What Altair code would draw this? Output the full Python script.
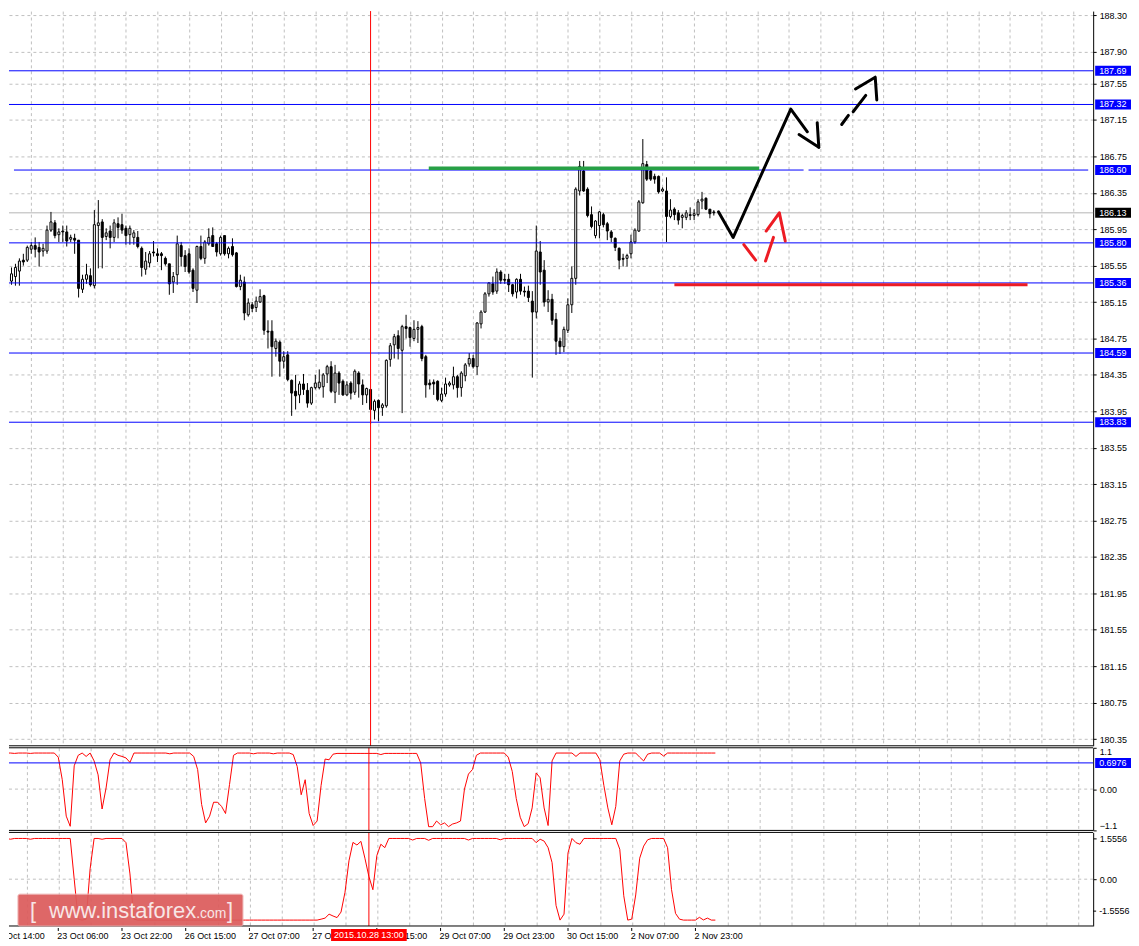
import altair as alt
import pandas as pd

# ---------------- data ----------------
opens = [
    185.31, 185.38, 185.43, 185.49, 185.61, 185.61, 185.73, 185.77, 185.75, 185.71,
    185.71, 185.94, 186.02, 185.89, 185.93, 185.92, 185.84, 185.85, 185.83, 185.29,
    185.40, 185.44, 185.33, 185.99, 186.03, 185.87, 185.93, 185.86, 186.01, 186.00,
    185.96, 185.89, 185.86, 185.86, 185.74, 185.51, 185.58, 185.70, 185.68, 185.68,
    185.63, 185.57, 185.37, 185.45, 185.77, 185.66, 185.68, 185.50, 185.28, 185.76,
    185.63, 185.79, 185.88, 185.79, 185.68, 185.88, 185.68, 185.76, 185.69, 185.32,
    185.37, 185.01, 185.12, 185.09, 185.15, 185.22, 184.83, 184.83, 184.64, 184.71,
    184.50, 184.57, 184.29, 184.17, 184.13, 184.25, 184.18, 184.04, 184.21, 184.21,
    184.22, 184.36, 184.44, 184.16, 184.37, 184.28, 184.13, 184.26, 184.16, 184.37,
    184.24, 184.13, 184.19, 183.96, 184.07, 183.99, 184.01, 184.52, 184.68, 184.78,
    184.62, 184.88, 184.87, 184.75, 184.85, 184.88, 184.55, 184.26, 184.27, 184.28,
    184.07, 184.14, 184.24, 184.24, 184.33, 184.21, 184.34, 184.47, 184.53, 184.44,
    184.91, 185.04, 185.24, 185.35, 185.27, 185.48, 185.40, 185.40, 185.34, 185.26,
    185.40, 185.27, 185.27, 185.16, 185.04, 185.70, 185.50, 185.15, 185.18, 184.96,
    184.72, 184.66, 184.84, 185.12, 185.41, 186.37, 186.59, 186.39, 186.11, 185.88,
    185.99, 186.11, 186.01, 185.92, 185.85, 185.74, 185.63, 185.63, 185.68, 185.81,
    185.93, 186.24, 186.66, 186.59, 186.53, 186.53, 186.37, 186.37, 186.09, 186.17,
    186.13, 186.08, 186.08, 186.11, 186.10, 186.11, 186.26, 186.29, 186.17, 186.14,
]
highs = [
    185.44, 185.53, 185.57, 185.63, 185.68, 185.77, 185.81, 185.86, 185.81, 185.79,
    185.99, 186.14, 186.05, 185.96, 185.99, 185.99, 185.89, 185.90, 185.83, 185.45,
    185.57, 185.52, 186.16, 186.27, 186.06, 185.96, 185.99, 186.06, 186.08, 186.12,
    185.99, 185.99, 185.94, 185.93, 185.76, 185.70, 185.71, 185.82, 185.74, 185.70,
    185.65, 185.57, 185.48, 185.88, 185.81, 185.72, 185.74, 185.52, 185.77, 185.88,
    185.83, 185.96, 185.97, 185.81, 185.88, 185.88, 185.76, 185.85, 185.70, 185.45,
    185.43, 185.19, 185.15, 185.21, 185.29, 185.23, 184.95, 184.95, 184.75, 184.73,
    184.61, 184.61, 184.30, 184.35, 184.28, 184.36, 184.26, 184.22, 184.35, 184.41,
    184.37, 184.46, 184.50, 184.46, 184.39, 184.30, 184.28, 184.28, 184.41, 184.39,
    184.30, 184.21, 184.19, 184.08, 184.08, 184.04, 184.52, 184.70, 184.80, 184.84,
    184.90, 185.01, 184.88, 184.95, 184.94, 184.90, 184.57, 184.30, 184.30, 184.29,
    184.21, 184.32, 184.28, 184.44, 184.35, 184.39, 184.48, 184.59, 184.57, 184.93,
    185.06, 185.26, 185.37, 185.43, 185.52, 185.50, 185.46, 185.46, 185.35, 185.41,
    185.46, 185.32, 185.33, 185.27, 185.99, 185.82, 185.61, 185.28, 185.24, 185.03,
    184.76, 184.88, 185.19, 185.54, 186.41, 186.70, 186.70, 186.41, 186.20, 186.05,
    186.15, 186.13, 186.03, 185.94, 185.86, 185.75, 185.68, 185.68, 185.89, 185.96,
    186.27, 186.94, 186.70, 186.63, 186.56, 186.54, 186.41, 186.52, 186.28, 186.19,
    186.16, 186.12, 186.16, 186.19, 186.17, 186.28, 186.36, 186.30, 186.17, 186.16,
]
lows = [
    184.88, 185.34, 185.33, 185.33, 185.55, 185.59, 185.68, 185.64, 185.54, 185.65,
    185.68, 185.92, 185.85, 185.81, 185.81, 185.76, 185.81, 185.68, 185.20, 185.25,
    185.35, 185.32, 185.30, 185.52, 185.52, 185.83, 185.74, 185.81, 185.85, 185.90,
    185.78, 185.78, 185.78, 185.74, 185.43, 185.45, 185.53, 185.65, 185.59, 185.50,
    185.55, 185.23, 185.25, 185.34, 185.54, 185.48, 185.46, 185.26, 185.14, 185.61,
    185.57, 185.77, 185.76, 185.65, 185.66, 185.66, 185.63, 185.65, 185.31, 185.28,
    184.95, 184.99, 185.04, 185.04, 185.14, 184.79, 184.64, 184.33, 184.55, 184.33,
    184.42, 184.28, 183.90, 183.97, 184.04, 184.13, 183.99, 184.02, 184.19, 184.19,
    184.10, 184.26, 184.15, 184.04, 184.13, 184.12, 184.12, 184.08, 184.13, 184.10,
    184.02, 184.04, 183.81, 183.86, 183.84, 183.90, 183.99, 184.44, 184.53, 184.52,
    183.93, 184.75, 184.66, 184.72, 184.70, 184.50, 184.10, 184.19, 184.13, 184.06,
    184.05, 184.11, 184.22, 184.19, 184.10, 184.11, 184.28, 184.44, 184.42, 184.35,
    184.86, 185.03, 185.21, 185.23, 185.24, 185.35, 185.35, 185.26, 185.21, 185.19,
    185.23, 185.21, 185.15, 184.32, 184.97, 185.34, 185.10, 185.04, 184.90, 184.57,
    184.58, 184.60, 184.81, 185.03, 185.34, 186.32, 186.36, 186.08, 185.96, 185.85,
    185.85, 185.97, 185.83, 185.81, 185.71, 185.51, 185.54, 185.54, 185.63, 185.79,
    185.92, 186.23, 186.48, 186.48, 186.45, 186.34, 186.36, 185.81, 186.07, 186.05,
    186.00, 185.96, 186.05, 186.05, 186.05, 186.09, 186.17, 186.16, 186.07, 186.10,
]
closes = [
    185.43, 185.46, 185.53, 185.60, 185.59, 185.75, 185.77, 185.73, 185.70, 185.74,
    185.94, 186.03, 185.88, 185.92, 185.92, 185.82, 185.86, 185.83, 185.30, 185.40,
    185.45, 185.34, 186.00, 186.02, 185.86, 185.91, 185.86, 186.02, 185.97, 185.94,
    185.88, 185.96, 185.91, 185.76, 185.53, 185.60, 185.68, 185.69, 185.66, 185.66,
    185.57, 185.35, 185.43, 185.79, 185.65, 185.54, 185.48, 185.30, 185.76, 185.63,
    185.81, 185.86, 185.76, 185.70, 185.86, 185.68, 185.74, 185.67, 185.32, 185.39,
    185.03, 185.14, 185.08, 185.16, 185.21, 184.84, 184.82, 184.66, 184.72, 184.50,
    184.55, 184.30, 184.15, 184.12, 184.25, 184.19, 184.04, 184.21, 184.26, 184.27,
    184.35, 184.44, 184.17, 184.37, 184.26, 184.13, 184.24, 184.15, 184.39, 184.25,
    184.13, 184.20, 183.97, 184.06, 183.99, 184.02, 184.51, 184.67, 184.77, 184.64,
    184.88, 184.86, 184.76, 184.85, 184.87, 184.53, 184.24, 184.24, 184.25, 184.08,
    184.14, 184.25, 184.26, 184.33, 184.21, 184.37, 184.46, 184.53, 184.44, 184.92,
    185.04, 185.24, 185.36, 185.26, 185.48, 185.39, 185.39, 185.34, 185.24, 185.40,
    185.27, 185.26, 185.20, 185.04, 185.71, 185.48, 185.15, 185.18, 184.95, 184.72,
    184.66, 184.85, 185.12, 185.41, 186.39, 186.64, 186.37, 186.10, 185.98, 186.04,
    186.14, 186.00, 185.93, 185.86, 185.75, 185.61, 185.62, 185.66, 185.81, 185.94,
    186.25, 186.67, 186.50, 186.50, 186.50, 186.36, 186.39, 186.09, 186.16, 186.11,
    186.05, 186.10, 186.13, 186.10, 186.12, 186.25, 186.28, 186.17, 186.12, 186.13,
]
osc1 = [
    0.38, 0.96, 0.96, 0.95, 0.96, 0.96, 0.96, 0.95, 0.96, 0.96,
    0.96, 0.96, 0.96, 0.96, 0.85, 0.25, -0.72, -0.99, 0.62, 0.90,
    0.96, 0.87, 0.96, 0.75, 0.38, -0.53, 0.03, 0.78, 0.96, 0.90,
    0.87, 0.83, 0.71, 0.96, 0.96, 0.96, 0.96, 0.96, 0.96, 0.96,
    0.96, 0.96, 0.94, 0.96, 0.96, 0.96, 0.96, 0.96, 0.87, 0.52,
    -0.41, -0.90, -0.72, -0.35, -0.35, -0.46, -0.65, 0.12, 0.90, 0.96,
    0.96, 0.96, 0.96, 0.94, 0.96, 0.96, 0.96, 0.96, 0.94, 0.96,
    0.96, 0.96, 0.96, 0.92, 0.60, -0.15, 0.25, -0.65, -0.97, -0.85,
    0.10, 0.80, 0.78, 0.93, 0.95, 0.95, 0.95, 0.95, 0.95, 0.95,
    0.95, 0.95, 0.95, 0.95, 0.95, 0.92, 0.95, 0.95, 0.95, 0.95,
    0.95, 0.95, 0.95, 0.95, 0.95, 0.70, -0.25, -1.00, -1.00, -0.85,
    -0.95, -0.90, -1.00, -0.93, -0.90, -0.85, 0.00, 0.40, 0.52, 0.90,
    0.96, 0.96, 0.96, 0.96, 0.96, 0.96, 0.96, 0.85, 0.47, -0.25,
    -0.75, -1.00, -0.92, -0.50, 0.43, 0.30, -0.50, -0.97, 0.75, 0.96,
    0.96, 0.96, 0.96, 0.96, 0.87, 0.96, 0.96, 0.96, 0.96, 0.96,
    0.78, 0.10, -0.50, -0.95, -0.46, 0.75, 0.93, 0.96, 0.96, 0.96,
    0.85, 0.75, 0.93, 0.96, 0.96, 0.96, 0.88, 0.96, 0.96, 0.96,
    0.96, 0.96, 0.96, 0.96, 0.96, 0.96, 0.96, 0.96, 0.96, 0.96,
]
osc2 = [
    0.63, 1.55, 1.52, 1.55, 1.55, 1.55, 1.55, 1.52, 1.55, 1.55,
    1.55, 1.55, 1.55, 1.55, 1.55, 1.55, 1.55, 1.55, 0.00, -1.52,
    -1.5556, -1.52, 0.40, 1.55, 1.55, 1.52, 1.55, 1.55, 1.55, 1.55,
    1.55, 1.39, 0.20, -1.52, -1.5556, -1.5556, -1.5556, -1.5556, -1.5556, -1.5556,
    -1.5556, -1.5556, -1.5556, -1.5556, -1.5556, -1.5556, -1.5556, -1.5556, -1.5556, -1.5556,
    -1.5556, -1.5556, -1.5556, -1.5556, -1.5556, -1.5556, -1.5556, -1.5556, -1.5556, -1.5556,
    -1.5556, -1.5556, -1.5556, -1.5556, -1.5556, -1.5556, -1.5556, -1.5556, -1.5556, -1.5556,
    -1.5556, -1.5556, -1.5556, -1.5556, -1.5556, -1.5556, -1.5556, -1.5556, -1.5556, -1.5556,
    -1.52, -1.48, -1.33, -1.40, -1.46, -1.25, -0.50, 0.70, 1.40, 1.30,
    1.44, 0.80, 0.10, -0.40, 0.90, 1.33, 1.20, 1.55, 1.55, 1.55,
    1.55, 1.55, 1.55, 1.49, 1.55, 1.55, 1.55, 1.48, 1.55, 1.55,
    1.55, 1.55, 1.55, 1.55, 1.55, 1.55, 1.55, 1.49, 1.55, 1.55,
    1.55, 1.55, 1.55, 1.55, 1.55, 1.50, 1.55, 1.55, 1.55, 1.55,
    1.55, 1.55, 1.55, 1.55, 1.39, 1.52, 1.45, 1.20, 0.63, -1.00,
    -1.5556, -1.33, 1.00, 1.55, 1.39, 1.33, 1.55, 1.55, 1.55, 1.55,
    1.55, 1.55, 1.55, 1.55, 1.55, 1.14, -0.63, -1.5556, -1.52, -0.60,
    0.80, 1.26, 1.50, 1.55, 1.55, 1.55, 1.55, 1.20, -0.40, -1.30,
    -1.52, -1.5556, -1.5556, -1.5556, -1.5556, -1.45, -1.55, -1.48, -1.5556, -1.5556,
]

levels = [187.69, 187.32, 186.60, 185.80, 185.36, 184.59, 183.83]
gap_level = 186.60
level_gap = [201.75, 203.0]
bid_price = 186.13
osc1_level = 0.6976
price_ticks = [188.30, 187.90, 187.55, 187.15, 186.75, 186.35, 185.95, 185.55, 185.15,
               184.75, 184.35, 183.95, 183.55, 183.15, 182.75, 182.35, 181.95, 181.55,
               181.15, 180.75, 180.35]
osc1_ticks = [1.1, 0.0, -1.1]
osc2_ticks = [1.5556, 0.0, -1.5556]
grid_bars = [6, 14, 22, 30, 38, 46, 54, 62, 70, 78, 86, 94, 102, 110, 118, 126, 134,
             142, 150, 158, 166, 174, 182, 190, 198, 206, 214, 222, 230, 238, 246, 254,
             262, 270]
time_bars = [-2, 14, 30, 46, 62, 78, 94, 110, 126, 142, 158, 174]
time_labels = ["22 Oct 14:00", "23 Oct 06:00", "23 Oct 22:00", "26 Oct 15:00",
               "27 Oct 07:00", "27 Oct 23:00", "28 Oct 15:00", "29 Oct 07:00",
               "29 Oct 23:00", "30 Oct 15:00", "2 Nov 07:00", "2 Nov 23:00"]
marker_bar = 92
marker_label = "2015.10.28 13:00"
green_span = [106.75, 190.5]
green_price = 186.62
red_span = [169.0, 258.5]
red_price = 185.34

stroke_id = [0, 0, 0, 0, 1, 1, 2, 2, 3, 3, 4, 4, 5, 5, 5, 6, 6, 7, 7, 8, 8, 8]
stroke_bar = [180.2, 183.9, 198.5, 202.7, 200.6, 205.6, 205.2, 205.6, 211.4, 213.1,
              214.3, 217.5, 214.9, 219.9, 220.3, 186.6, 189.6, 192.1, 194.1, 192.25,
              195.6, 197.1]
stroke_price = [186.14, 185.86, 187.27, 187.02, 186.99, 186.85, 187.12, 186.85, 187.10,
                187.20, 187.24, 187.42, 187.49, 187.62, 187.37, 185.78, 185.61, 185.60,
                185.86, 185.93, 186.13, 185.82]
stroke_color_by_id = ["black", "black", "black", "black", "black", "black",
                      "#ed1c24", "#ed1c24", "#ed1c24"]

# ---------------- layout / style ----------------
W, H_MAIN, H_O1, H_O2, H_AX = 1089, 738, 83, 94, 13
X_DOMAIN = [1.625, 273.875]
FONT = "Liberation Sans"
BLUE = "#0000ff"
GRID = "#c0c0c0"
RED = "#ff0000"

xs = alt.Scale(domain=X_DOMAIN, nice=False, zero=False)
ys_main = alt.Scale(domain=[180.276, 188.346], nice=False, zero=False)
ys_o1 = alt.Scale(domain=[-1.1, 1.1], nice=False, zero=False)
ys_o2 = alt.Scale(domain=[-1.78, 1.78], nice=False, zero=False)

xgrid_axis = alt.Axis(values=grid_bars, grid=True, gridColor=GRID, gridDash=[3, 3],
                      labels=False, ticks=False, domain=False, title=None)
main_axis = alt.Axis(orient="right", values=price_ticks, format=".2f", grid=True,
                     gridColor=GRID, gridDash=[3, 3], domainColor="black",
                     tickColor="black", tickSize=3, labelPadding=3, title=None,
                     labelOverlap=False)
o1_axis = alt.Axis(orient="right", values=osc1_ticks,
                   labelExpr="datum.value == 0 ? '0.00' : format(datum.value, '.1f')",
                   labelFlush=True, grid=False, domainColor="black", tickColor="black",
                   tickSize=3, labelPadding=3, title=None, labelOverlap=False)
o2_axis = alt.Axis(orient="right", values=osc2_ticks[:2],
                   labelExpr="datum.value == 0 ? '0.00' : format(datum.value, '.4f')",
                   grid=False, domainColor="black", tickColor="black",
                   tickSize=3, labelPadding=3, title=None, labelOverlap=False)


def X(f):
    return alt.X(f, scale=xs, axis=xgrid_axis)


def YM(f):
    return alt.Y(f, scale=ys_main, axis=main_axis)


def Y1(f):
    return alt.Y(f, scale=ys_o1, axis=o1_axis)


def Y2(f):
    return alt.Y(f, scale=ys_o2, axis=o2_axis)


one = pd.DataFrame({"k": [0]})

# ---------------- main price panel ----------------
candles = pd.DataFrame({"bar": list(range(len(opens))), "open": opens, "high": highs,
                        "low": lows, "close": closes})

bid = alt.Chart(pd.DataFrame({"price": [bid_price]})).mark_rule(
    color="#b4b4b4", strokeWidth=1).encode(y=YM("price:Q"))

wicks = alt.Chart(candles).mark_rule(color="black", strokeWidth=1, clip=True).encode(
    x=X("bar:Q"), y=YM("low:Q"), y2="high:Q")

bodies = alt.Chart(candles).mark_bar(size=2, stroke="black", strokeWidth=1,
                                     clip=True).encode(
    x=X("bar:Q"), y=YM("open:Q"), y2="close:Q",
    fill=alt.condition("datum.close >= datum.open", alt.value("white"),
                       alt.value("black")))

full_levels = pd.DataFrame({"price": [v for v in levels if v != gap_level]})
level_rules = alt.Chart(full_levels).mark_rule(color=BLUE, strokeWidth=1).encode(
    y=YM("price:Q"))

gap_df = pd.DataFrame({"x": [X_DOMAIN[0], level_gap[1]],
                       "x2": [level_gap[0], X_DOMAIN[1]],
                       "price": [gap_level, gap_level]})
gap_rules = alt.Chart(gap_df).mark_rule(color=BLUE, strokeWidth=1, clip=True).encode(
    x=X("x:Q"), x2="x2:Q", y=YM("price:Q"))

green = alt.Chart(pd.DataFrame({"x": [green_span[0]], "x2": [green_span[1]],
                                "price": [green_price]})).mark_rule(
    color="#27a046", strokeWidth=3.5, clip=True).encode(
    x=X("x:Q"), x2="x2:Q", y=YM("price:Q"))

redzone = alt.Chart(pd.DataFrame({"x": [red_span[0]], "x2": [red_span[1]],
                                  "price": [red_price]})).mark_rule(
    color="#ed1c24", strokeWidth=3, clip=True).encode(
    x=X("x:Q"), x2="x2:Q", y=YM("price:Q"))

strokes_df = pd.DataFrame({"id": stroke_id, "ord": list(range(len(stroke_id))),
                           "bar": stroke_bar, "price": stroke_price,
                           "color": [stroke_color_by_id[i] for i in stroke_id]})
strokes = alt.Chart(strokes_df).mark_line(strokeWidth=3, strokeCap="round",
                                          strokeJoin="round", clip=True).encode(
    x=X("bar:Q"), y=YM("price:Q"), detail="id:N", order="ord:Q",
    color=alt.Color("color:N", scale=None))

marker_df = pd.DataFrame({"bar": [marker_bar]})
marker_main = alt.Chart(marker_df).mark_rule(color=RED, strokeWidth=1).encode(
    x=X("bar:Q"))

box_df = pd.DataFrame({"price": levels + [bid_price],
                       "label": [f"{v:.2f}" for v in levels + [bid_price]],
                       "fill": [BLUE for _ in levels] + ["black"]})
boxes = alt.Chart(box_df).mark_rect(yOffset=-5, y2Offset=5).encode(
    x=alt.value(W + 2), x2=alt.value(W + 38), y=YM("price:Q"), y2="price:Q",
    fill=alt.Fill("fill:N", scale=None))
box_text = alt.Chart(box_df).mark_text(align="left", baseline="middle", color="white",
                                       font=FONT, fontSize=9).encode(
    x=alt.value(W + 6), y=YM("price:Q"), text="label:N")

main_border = alt.Chart(one).mark_rule(color="black").encode(
    x=alt.value(0), x2=alt.value(W), y=alt.value(H_MAIN))

main = alt.layer(bid, wicks, bodies, level_rules, gap_rules, green, redzone, strokes,
                 marker_main, boxes, box_text, main_border).properties(
    width=W, height=H_MAIN)

# ---------------- oscillator 1 ----------------
o1_df = pd.DataFrame({"bar": list(range(len(osc1))), "v": osc1})
o1_zero = alt.Chart(pd.DataFrame({"v": [osc1_ticks[1]]})).mark_rule(
    color=GRID, strokeDash=[3, 3]).encode(y=Y1("v:Q"))
o1_line = alt.Chart(o1_df).mark_line(color=RED, strokeWidth=1, clip=True).encode(
    x=X("bar:Q"), y=Y1("v:Q"))
o1_level = alt.Chart(pd.DataFrame({"v": [osc1_level]})).mark_rule(
    color=BLUE, strokeWidth=1).encode(y=Y1("v:Q"))
o1_marker = alt.Chart(marker_df).mark_rule(color=RED).encode(x=X("bar:Q"))
o1_box_df = pd.DataFrame({"v": [osc1_level], "label": [f"{osc1_level:.4f}"]})
o1_box = alt.Chart(o1_box_df).mark_rect(yOffset=-5, y2Offset=5, color=BLUE).encode(
    x=alt.value(W + 2), x2=alt.value(W + 38), y=Y1("v:Q"), y2="v:Q")
o1_box_text = alt.Chart(o1_box_df).mark_text(align="left", baseline="middle",
                                             color="white", font=FONT,
                                             fontSize=9).encode(
    x=alt.value(W + 6), y=Y1("v:Q"), text="label:N")
o1_top = alt.Chart(one).mark_rule(color="black").encode(
    x=alt.value(0), x2=alt.value(W), y=alt.value(0))
o1_bottom = alt.Chart(one).mark_rule(color="black").encode(
    x=alt.value(0), x2=alt.value(W), y=alt.value(H_O1))
ind1 = alt.layer(o1_zero, o1_line, o1_level, o1_marker, o1_box, o1_box_text,
                 o1_top, o1_bottom).properties(width=W, height=H_O1)

# ---------------- oscillator 2 ----------------
o2_df = pd.DataFrame({"bar": list(range(len(osc2))), "v": osc2})
o2_zero = alt.Chart(pd.DataFrame({"v": [osc2_ticks[1]]})).mark_rule(
    color=GRID, strokeDash=[3, 3]).encode(y=Y2("v:Q"))
o2_line = alt.Chart(o2_df).mark_line(color=RED, strokeWidth=1, clip=True).encode(
    x=X("bar:Q"), y=Y2("v:Q"))
o2_marker = alt.Chart(marker_df).mark_rule(color=RED).encode(x=X("bar:Q"))
o2_min_df = pd.DataFrame({"v": [osc2_ticks[2]], "t": [f"{osc2_ticks[2]:.4f}"]})
o2_min_label = alt.Chart(o2_min_df).mark_text(align="left", baseline="middle", dy=-9,
                                              font=FONT, fontSize=9,
                                              color="black").encode(
    x=alt.value(W + 6), y=Y2("v:Q"), text="t:N")
o2_min_tick = alt.Chart(o2_min_df).mark_rule(color="black", yOffset=-9).encode(
    x=alt.value(W), x2=alt.value(W + 3), y=Y2("v:Q"))
o2_top = alt.Chart(one).mark_rule(color="black").encode(
    x=alt.value(0), x2=alt.value(W), y=alt.value(0))
o2_bottom = alt.Chart(one).mark_rule(color="black").encode(
    x=alt.value(0), x2=alt.value(W), y=alt.value(H_O2))

wm_box = alt.Chart(one).mark_rect(fill="#dc5c5c", opacity=0.93, stroke="#eeb0b0",
                                  strokeWidth=1, cornerRadius=2).encode(
    x=alt.value(9), x2=alt.value(235), y=alt.value(62), y2=alt.value(94))
wm_l = alt.Chart(one).mark_text(align="left", baseline="alphabetic", font=FONT,
                                fontSize=22, color="#f8e6e6").encode(
    x=alt.value(21), y=alt.value(86), text=alt.value("["))
wm_main = alt.Chart(one).mark_text(align="right", baseline="alphabetic", font=FONT,
                                   fontSize=22, color="#f8e6e6").encode(
    x=alt.value(188), y=alt.value(86), text=alt.value("www.instaforex"))
wm_com = alt.Chart(one).mark_text(align="left", baseline="alphabetic", font=FONT,
                                  fontSize=14, color="#f8e6e6").encode(
    x=alt.value(188), y=alt.value(86), text=alt.value(".com"))
wm_r = alt.Chart(one).mark_text(align="left", baseline="alphabetic", font=FONT,
                                fontSize=22, color="#f8e6e6").encode(
    x=alt.value(219), y=alt.value(86), text=alt.value("]"))

ind2 = alt.layer(o2_zero, o2_line, o2_marker, o2_min_tick, o2_min_label, o2_top,
                 o2_bottom, wm_box, wm_l, wm_main, wm_com, wm_r).properties(
    width=W, height=H_O2)

# ---------------- time axis strip ----------------
time_df = pd.DataFrame({"bar": time_bars, "label": time_labels})
XA = alt.X("bar:Q", scale=xs, axis=None)
t_ticks = alt.Chart(time_df).mark_rule(color="black", clip=True).encode(
    x=XA, y=alt.value(0), y2=alt.value(3))
t_labels = alt.Chart(time_df).mark_text(align="left", baseline="middle", font=FONT,
                                        fontSize=9, color="black", dx=-1,
                                        clip=True).encode(
    x=XA, y=alt.value(8), text="label:N")
date_df = pd.DataFrame({"bar": [marker_bar], "label": [marker_label]})
date_box = alt.Chart(date_df).mark_rect(color=RED, xOffset=-38, x2Offset=38).encode(
    x=XA, x2="bar:Q", y=alt.value(1), y2=alt.value(13))
date_text = alt.Chart(date_df).mark_text(align="center", baseline="middle", font=FONT,
                                         fontSize=9, color="white").encode(
    x=XA, y=alt.value(7.5), text="label:N")
axis_strip = alt.layer(t_ticks, t_labels, date_box, date_text).properties(
    width=W, height=H_AX)

chart = alt.vconcat(main, ind1, ind2, axis_strip, spacing=2, bounds="flush").properties(
    padding=0
).configure_view(stroke=None).configure_axis(
    labelFont=FONT, labelFontSize=9, labelColor="black"
)

chart.save("out.html", embed_options={"renderer": "svg", "actions": False})
